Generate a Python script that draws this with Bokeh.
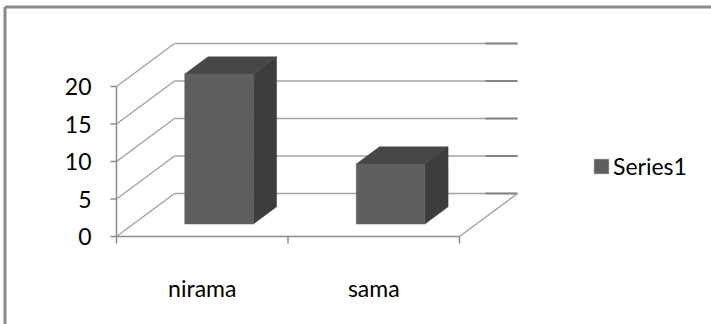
from bokeh.plotting import figure
from bokeh.models import Range1d, Legend, LegendItem
from bokeh.core.properties import value
from bokeh.embed import file_html
from bokeh.resources import INLINE

# ---- data ----
categories = ["nirama", "sama"]
series_name = "Series1"
values = [20, 8]
y_ticks = [0, 5, 10, 15, 20]
y_tick_labels = ["0", "5", "10", "15", "20"]

# ---- layout / style ----
W, H = 711, 324
AX_PX, BASE_PX = 116.0, 236.0      # screen position of front value axis / zero line
CAT_PX, UNIT_PX = 171.5, 7.5       # pixels per category / per value unit
DX, DY = 58 / CAT_PX, 43 / UNIT_PX  # oblique depth of the floor (data units)
BAR_W = 0.4
BAR_D0, BAR_D1 = 0.29, 0.69        # depth position of bars (fraction of floor depth)
FONT = "Lato"
FS = "23px"
GRID = "#a3a3a3"
AXIS = "#8c8c8c"
FRONT, TOP, SIDE = "#5f5f5f", "#474747", "#3d3d3d"

def px2x(px):
    return (px - AX_PX) / CAT_PX

def px2y(py):
    return (BASE_PX - py) / UNIT_PX

ncat = len(categories)
ymax = y_ticks[-1]

p = figure(width=W, height=H, output_backend="svg", toolbar_location=None,
           x_range=Range1d(px2x(0), px2x(W)), y_range=Range1d(px2y(H), px2y(0)),
           x_axis_location=None, y_axis_location=None, min_border=0)
p.grid.visible = False
p.outline_line_color = None
p.background_fill_color = "white"

# chart area border (top and left edges visible)
p.segment(x0=[px2x(4.5), px2x(4.5)], y0=[px2y(6.5), px2y(6.5)],
          x1=[px2x(W), px2x(4.5)], y1=[px2y(6.5), px2y(H)],
          line_color="#8a8a8a", line_width=3)

# back wall gridlines
p.segment(x0=[DX] * len(y_ticks), y0=[t + DY for t in y_ticks],
          x1=[ncat + DX] * len(y_ticks), y1=[t + DY for t in y_ticks],
          line_color=GRID, line_width=1.5)
p.segment(x0=[ncat + DX - 32 / CAT_PX] * len(y_ticks), y0=[t + DY for t in y_ticks],
          x1=[ncat + DX] * len(y_ticks), y1=[t + DY for t in y_ticks],
          line_color="#858585", line_width=2)
# side wall gridlines
p.segment(x0=[0] * len(y_ticks), y0=y_ticks,
          x1=[DX] * len(y_ticks), y1=[t + DY for t in y_ticks],
          line_color=GRID, line_width=1.5)
# floor right edge
p.segment(x0=[ncat], y0=[0], x1=[ncat + DX], y1=[DY], line_color=GRID, line_width=1.5)

# front axes
p.segment(x0=[0, 0], y0=[0, 0], x1=[ncat, 0], y1=[0, ymax], line_color=AXIS, line_width=1.5)
p.segment(x0=[-6 / CAT_PX] * len(y_ticks), y0=y_ticks, x1=[0] * len(y_ticks), y1=y_ticks,
          line_color=AXIS, line_width=1.5)
p.segment(x0=list(range(ncat + 1)), y0=[0] * (ncat + 1),
          x1=list(range(ncat + 1)), y1=[-7 / UNIT_PX] * (ncat + 1),
          line_color=AXIS, line_width=1.5)

# tick labels
p.text(x=[px2x(91)] * len(y_ticks), y=y_ticks, text=y_tick_labels,
       text_font=value(FONT), text_font_size=FS, text_align="right",
       text_baseline="middle", text_color="black")
p.text(x=[i + 0.5 for i in range(ncat)], y=[px2y(287)] * ncat, text=categories,
       text_font=value(FONT), text_font_size=FS, text_align="center",
       text_baseline="alphabetic", text_color="black")

# 3D bars
ox0, oy0 = BAR_D0 * DX, BAR_D0 * DY
ddx, ddy = (BAR_D1 - BAR_D0) * DX, (BAR_D1 - BAR_D0) * DY
fx, fy, tx, ty, sx, sy = [], [], [], [], [], []
for i, v in enumerate(values):
    xl = i + 0.5 - BAR_W / 2 + ox0
    xr = i + 0.5 + BAR_W / 2 + ox0
    yb, yt = oy0, v + oy0
    fx.append([xl, xr, xr, xl]); fy.append([yb, yb, yt, yt])
    tx.append([xl, xr, xr + ddx, xl + ddx]); ty.append([yt, yt, yt + ddy, yt + ddy])
    sx.append([xr, xr + ddx, xr + ddx, xr]); sy.append([yb, yb + ddy, yt + ddy, yt])

p.patches(xs=sx, ys=sy, fill_color=SIDE, line_color=SIDE, line_width=0.5)
p.patches(xs=tx, ys=ty, fill_color=TOP, line_color=TOP, line_width=0.5)
front = p.patches(xs=fx, ys=fy, fill_color=FRONT, line_color=FRONT, line_width=0.5)

legend = Legend(items=[LegendItem(label=series_name, renderers=[front])],
                location=(592, 144), orientation="vertical",
                glyph_width=18, glyph_height=18, label_height=18, label_standoff=3,
                padding=0, margin=0, spacing=0,
                label_text_font=FONT, label_text_font_size=FS, label_text_color="black",
                border_line_color=None, background_fill_alpha=0)
p.add_layout(legend)

open("out.html", "w").write(file_html(p, INLINE))
